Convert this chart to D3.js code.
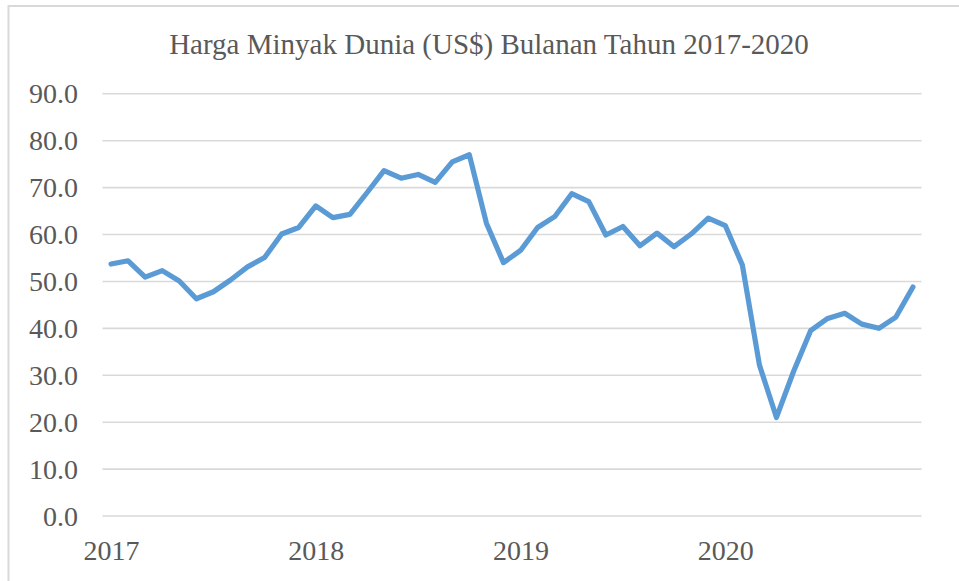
<!DOCTYPE html>
<html>
<head>
<meta charset="utf-8">
<script src="https://cdn.jsdelivr.net/npm/d3@7"></script>
<style>
  html, body { margin: 0; padding: 0; background: #fff; }
  svg { display: block; }
</style>
</head>
<body>
<svg id="chart" width="959" height="581"></svg>
<script>
const title = "Harga Minyak Dunia (US$) Bulanan Tahun 2017-2020";
const months = [
  "2017-01","2017-02","2017-03","2017-04","2017-05","2017-06","2017-07","2017-08","2017-09","2017-10","2017-11","2017-12",
  "2018-01","2018-02","2018-03","2018-04","2018-05","2018-06","2018-07","2018-08","2018-09","2018-10","2018-11","2018-12",
  "2019-01","2019-02","2019-03","2019-04","2019-05","2019-06","2019-07","2019-08","2019-09","2019-10","2019-11","2019-12",
  "2020-01","2020-02","2020-03","2020-04","2020-05","2020-06","2020-07","2020-08","2020-09","2020-10","2020-11","2020-12"
];
const prices = [
  53.6, 54.3, 50.8, 52.2, 50.0, 46.2, 47.7, 50.2, 53.0, 55.0, 60.0, 61.4,
  66.0, 63.5, 64.2, 68.8, 73.5, 71.9, 72.7, 71.0, 75.4, 76.9, 62.3, 53.9,
  56.5, 61.4, 63.7, 68.6, 66.9, 59.8, 61.6, 57.5, 60.2, 57.3, 60.0, 63.4,
  61.8, 53.4, 32.1, 20.9, 30.7, 39.4, 42.0, 43.1, 40.8, 39.9, 42.3, 48.7
];
const yTicks = [0, 10, 20, 30, 40, 50, 60, 70, 80, 90];
const yearTicks = ["2017-01", "2018-01", "2019-01", "2020-01"];
const yearLabels = ["2017", "2018", "2019", "2020"];

(function () {
const svg = d3.select("#chart");
const font = "'Liberation Serif', 'Times New Roman', serif";
const textColor = "#595959";

// outer chart border (only left and top visible in frame)
svg.append("rect")
  .attr("x", 8.5).attr("y", 6)
  .attr("width", 1000).attr("height", 700)
  .attr("fill", "#fff")
  .attr("stroke", "#d9d9d9").attr("stroke-width", 2);

const plotLeft = 102.5, plotRight = 921.5, plotTop = 93.3, plotBottom = 515.5;

const x = d3.scalePoint().domain(months).range([plotLeft, plotRight]).padding(0.5);
const y = d3.scaleLinear().domain([0, 90]).range([plotBottom, plotTop]);

// gridlines + y labels via axis
const yAxis = d3.axisLeft(y)
  .tickValues(yTicks)
  .tickSize(-(plotRight - plotLeft))
  .tickPadding(0)
  .tickFormat(d3.format(".1f"));

const gy = svg.append("g")
  .attr("transform", `translate(${plotLeft},0)`)
  .call(yAxis);
gy.select(".domain").remove();
gy.selectAll(".tick line")
  .attr("stroke", "#d9d9d9").attr("stroke-width", 1.6);
gy.selectAll(".tick text")
  .attr("x", -24.5)
  .attr("dy", "0.34em")
  .attr("fill", textColor)
  .style("font-family", font)
  .style("font-size", "28px");

// x axis labels
const xAxis = d3.axisBottom(x)
  .tickValues(yearTicks)
  .tickSize(0)
  .tickPadding(0)
  .tickFormat((d) => yearLabels[yearTicks.indexOf(d)]);

const gx = svg.append("g")
  .attr("transform", `translate(0,${plotBottom})`)
  .call(xAxis);
gx.select(".domain").remove();
gx.selectAll(".tick text")
  .attr("y", 44.5)
  .attr("dy", 0)
  .attr("fill", textColor)
  .style("font-family", font)
  .style("font-size", "28px");

// line
const line = d3.line()
  .x((d, i) => x(months[i]))
  .y((d) => y(d));

svg.append("path")
  .datum(prices)
  .attr("fill", "none")
  .attr("stroke", "#5B9BD5")
  .attr("stroke-width", 5.2)
  .attr("stroke-linejoin", "round")
  .attr("stroke-linecap", "round")
  .attr("d", line);

// title
svg.append("text")
  .attr("x", 489)
  .attr("y", 53.5)
  .attr("text-anchor", "middle")
  .attr("fill", textColor)
  .style("font-family", font)
  .style("font-size", "29px")
  .text(title);
})();
</script>
</body>
</html>
